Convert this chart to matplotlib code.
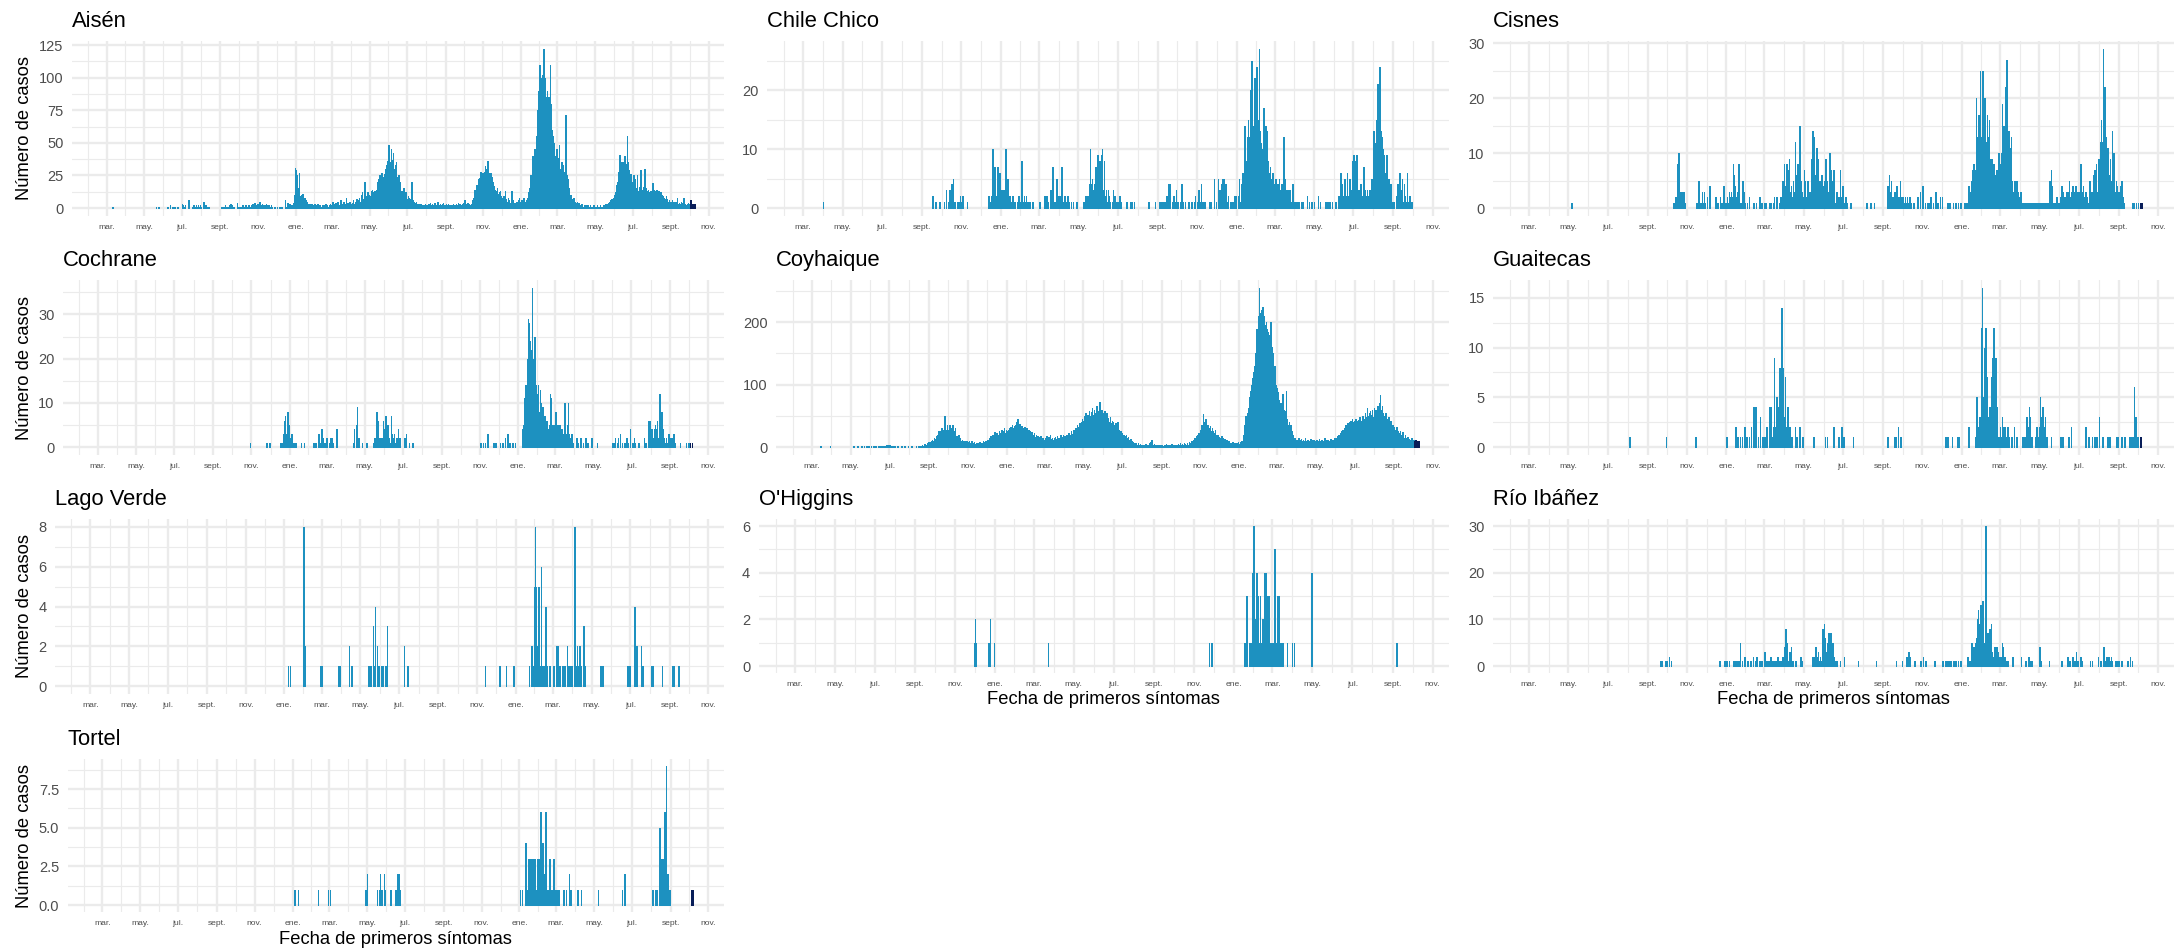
import numpy as np
import pandas as pd
import matplotlib
matplotlib.use("Agg")
import matplotlib.pyplot as plt
import matplotlib.dates as mdates

plt.rcParams['font.family'] = ['Liberation Sans', 'DejaVu Sans']

START, END = "2020-02-22", "2022-10-09"
HIGHLIGHT_FROM = "2022-10-03"
BAR_COLOR, LAST_COLOR = "#1d91c0", "#081d58"

communes = ["Aisén", "Chile Chico", "Cisnes", "Cochrane", "Coyhaique",
            "Guaitecas", "Lago Verde", "O'Higgins", "Río Ibáñez", "Tortel"]

# Daily cases by month: list = consecutive days from day 1; dict = {day: cases}
aisen = {
 "2020-03": {11: 1}, "2020-05": {20: 1, 24: 1}, "2020-06": {8: 1, 12: 2, 16: 1, 19: 1, 24: 1},
 "2020-07": [3,0,2,1,0,2,0,0,0,0,0,6,0,0,0,0,1,0,0,2,0,1,0,2,0,1,2,0,1,2,0],
 "2020-08": {1: 1, 5: 5, 6: 1, 7: 2, 9: 2, 10: 1, 12: 1, 14: 1},
 "2020-09": {2: 1, 4: 1, 6: 1, 7: 1, 9: 2, 10: 1, 13: 1, 15: 2, 17: 1, 18: 3, 20: 2, 21: 1, 23: 1, 28: 4, 30: 1},
 "2020-10": [0,1,0,1,1,0,2,0,0,1,0,2,0,1,1,0,2,0,1,1,2,0,3,1,2,0,4,0,1,2,3],
 "2020-11": [1,2,5,5,2,1,0,3,2,0,2,1,2,3,0,2,1,2,0,0,1,2,0,1,0,0,1,0,1,0],
 "2020-12": [0,1,0,0,0,1,0,0,1,0,0,0,0,0,6,0,1,0,4,0,1,3,0,2,1,0,2,1,4,10,31],
 "2021-01": [29,27,25,13,15,12,27,9,8,10,7,11,8,7,5,8,6,4,5,3,2,3,2,3,2,2,3,2,2,1,2],
 "2021-02": [3,2,1,2,2,3,2,1,2,1,0,1,2,1,2,1,0,1,3,1,2,1,1,1,2,3,1,2],
 "2021-03": [2,5,2,1,3,2,4,2,3,5,1,2,2,3,6,1,2,3,4,5,2,3,3,8,2,4,3,2,5,3,2],
 "2021-04": [3,2,4,6,2,3,5,4,3,7,4,5,6,8,5,4,10,6,12,7,5,8,20,9,6,9,8,12,7,10],
 "2021-05": [9,8,13,9,14,10,12,11,13,10,12,14,13,20,22,25,18,25,15,27,18,22,24,20,26,30,25,33,22,36,40],
 "2021-06": [48,30,35,27,45,25,37,42,30,28,20,33,35,24,18,15,25,20,14,10,8,13,9,7,15,6,10,12,8,7],
 "2021-07": [6,9,5,8,6,7,4,20,15,6,3,5,4,3,5,2,3,2,3,1,2,3,1,2,1,1,2,1,2,3,1],
 "2021-08": [2,1,2,3,1,2,4,2,1,3,2,1,2,4,3,2,1,3,5,2,1,2,3,1,2,3,1,4,2,2,1],
 "2021-09": [2,3,2,1,3,1,2,1,0,0,2,1,3,2,1,2,1,3,2,1,4,2,3,3,2,1,2,3,4,2],
 "2021-10": [3,6,2,1,3,2,4,1,3,2,2,1,3,5,6,8,10,14,12,16,18,10,11,22,14,23,19,28,25,20,27],
 "2021-11": [25,28,26,32,30,24,28,36,26,27,20,25,27,22,24,16,20,17,12,14,13,10,15,9,11,8,12,13,6,9],
 "2021-12": [8,6,5,9,4,13,7,6,5,4,8,5,6,3,4,4,13,5,6,4,3,2,4,5,5,4,6,5,8,4,5],
 "2022-01": [5,6,4,5,8,6,5,4,6,5,4,8,12,10,15,20,25,22,28,40,35,42,45,38,44,55,45,75,90,88,110],
 "2022-02": [95,100,85,90,102,80,122,95,100,85,80,90,78,75,85,70,110,80,65,60,55,45,50,35,40,37,34,45],
 "2022-03": [38,35,32,48,30,28,25,35,30,33,28,25,27,71,30,25,20,22,15,12,10,8,10,7,6,5,8,4,3,5,4],
 "2022-04": [3,5,2,4,3,2,1,2,3,2,1,1,2,1,1,2,1,1,2,1,1,1,2,1,1,1,1,1,2,1],
 "2022-05": [1,1,1,2,1,1,1,1,2,1,1,1,1,2,1,2,3,2,1,3,2,4,3,5,2,6,5,7,4,8,6],
 "2022-06": [8,10,12,15,18,20,25,28,30,41,29,20,35,28,30,35,25,40,32,34,28,55,35,29,24,25,10,26,20,18],
 "2022-07": [20,25,16,22,18,12,15,25,13,10,16,12,18,29,14,12,9,16,11,30,12,10,15,13,9,14,12,10,8,13,9],
 "2022-08": [12,19,17,14,13,10,12,9,14,11,8,13,10,9,12,8,10,7,9,6,8,7,5,9,6,7,5,4,6,5,4],
 "2022-09": [5,4,6,3,5,4,2,5,3,4,8,3,2,4,3,2,5,3,2,4,8,3,2,3,1,2,3,2,4,3],
 "2022-10": [3,2,6,3,3,2,3,3,3],
}

chile_chico = {
 "2020-04": {1: 1}, "2020-09": {17: 2, 22: 1, 28: 1},
 "2020-10": {5: 1, 8: 3, 12: 1, 14: 3, 16: 4, 18: 4, 19: 5, 21: 1, 26: 1, 28: 1, 30: 2},
 "2020-11": {1: 1, 3: 2, 10: 1},
 "2020-12": {13: 2, 15: 1, 17: 2, 19: 10, 20: 1, 21: 3, 22: 7, 23: 1, 24: 1, 25: 2, 26: 1, 27: 7, 28: 3, 29: 1, 30: 6, 31: 1},
 "2021-01": {1: 2, 2: 3, 3: 2, 4: 1, 5: 3, 6: 1, 7: 2, 8: 10, 9: 1, 10: 3, 11: 5, 12: 3, 13: 1, 14: 2, 15: 2, 17: 1, 19: 2, 21: 1, 23: 1, 26: 1, 28: 2, 30: 1},
 "2021-02": {1: 4, 2: 8, 3: 2, 4: 1, 5: 1, 6: 2, 7: 1, 9: 2, 11: 1, 13: 1, 15: 1, 18: 1, 20: 1},
 "2021-03": {2: 1, 10: 2, 12: 2, 13: 2, 15: 1, 19: 3, 21: 4, 22: 7, 24: 1, 26: 1, 28: 5, 29: 3, 31: 2},
 "2021-04": {1: 1, 3: 2, 5: 7, 6: 3, 8: 1, 10: 2, 11: 1, 14: 2, 16: 1, 20: 1, 23: 1, 28: 1},
 "2021-05": {8: 1, 10: 1, 12: 2, 13: 1, 15: 2, 16: 1, 18: 4, 19: 10, 20: 4, 21: 1, 22: 5, 23: 3, 24: 1, 25: 4, 26: 2, 27: 1, 28: 7, 29: 3, 30: 1, 31: 9},
 "2021-06": {1: 6, 2: 1, 3: 8, 4: 4, 5: 2, 6: 9, 7: 10, 8: 1, 9: 3, 10: 8, 11: 2, 12: 1, 13: 3, 14: 1, 16: 3, 17: 2, 19: 1, 22: 1, 24: 3, 26: 2, 28: 1},
 "2021-07": {1: 1, 4: 2, 6: 1, 15: 1, 20: 1, 22: 1, 26: 1},
 "2021-08": {18: 1, 28: 1},
 "2021-09": {4: 1, 7: 1, 10: 1, 12: 1, 15: 2, 17: 2, 18: 4, 20: 4, 23: 1, 25: 2, 27: 1, 29: 3},
 "2021-10": {2: 1, 6: 1, 8: 4, 10: 1, 13: 1, 19: 1, 23: 1, 28: 1, 29: 2},
 "2021-11": {1: 1, 3: 3, 5: 1, 7: 4, 9: 1, 11: 1, 13: 1, 20: 1, 22: 1, 27: 5, 30: 1},
 "2021-12": {3: 5, 4: 1, 6: 3, 9: 4, 10: 5, 12: 5, 13: 1, 15: 4, 17: 1, 19: 2, 22: 1, 24: 1, 26: 1, 28: 2, 30: 2, 31: 1},
 "2022-01": {3: 2, 5: 5, 6: 1, 9: 4, 10: 6, 11: 1, 12: 3, 13: 14, 14: 5, 15: 1, 16: 8, 17: 12, 18: 6, 19: 15, 20: 12, 21: 10, 22: 20, 23: 15, 24: 25, 25: 12, 26: 10, 27: 14, 28: 8, 29: 22, 30: 12, 31: 18},
 "2022-02": {1: 24, 2: 10, 3: 15, 4: 9, 5: 27, 6: 13, 7: 10, 8: 11, 9: 10, 10: 9, 11: 7, 12: 17, 13: 12, 14: 10, 15: 14, 16: 13, 17: 6, 18: 8, 19: 7, 20: 6, 21: 5, 22: 7, 23: 5, 24: 3, 25: 4, 26: 6, 27: 2, 28: 4},
 "2022-03": {1: 3, 2: 5, 3: 2, 4: 2, 5: 4, 6: 1, 7: 4, 8: 5, 9: 2, 10: 3, 11: 1, 12: 4, 13: 1, 14: 2, 15: 12, 16: 2, 17: 5, 18: 3, 19: 1, 20: 3, 21: 3, 22: 1, 23: 2, 24: 3, 25: 1, 27: 1, 29: 4, 31: 1},
 "2022-04": {2: 1, 4: 1, 7: 1, 11: 1, 13: 1, 20: 2, 23: 1, 27: 1},
 "2022-05": {1: 1, 7: 2, 10: 1, 19: 1, 22: 1, 25: 1, 29: 1},
 "2022-06": {3: 1, 8: 2, 11: 6, 12: 1, 13: 4, 14: 1, 15: 2, 16: 1, 17: 5, 18: 2, 19: 1, 20: 2, 21: 6, 22: 2, 23: 1, 24: 3, 25: 5, 26: 1, 27: 2, 28: 3, 29: 8, 30: 2},
 "2022-07": {1: 9, 2: 2, 3: 8, 4: 8, 5: 2, 6: 9, 7: 3, 8: 1, 9: 2, 10: 3, 11: 2, 12: 4, 13: 4, 14: 2, 15: 1, 16: 6, 17: 7, 18: 2, 19: 3, 20: 2, 21: 1, 22: 3, 23: 1, 24: 2, 25: 2, 26: 3, 27: 2, 28: 1, 29: 5, 30: 5, 31: 2},
 "2022-08": {1: 13, 2: 13, 3: 6, 4: 11, 5: 15, 6: 8, 7: 21, 8: 15, 9: 12, 10: 24, 11: 14, 12: 13, 13: 9, 14: 12, 15: 10, 16: 5, 17: 9, 18: 6, 19: 3, 20: 5, 21: 9, 22: 4, 23: 2, 24: 5, 25: 3, 26: 1, 27: 4, 28: 2, 29: 1, 30: 1},
 "2022-09": {1: 1, 5: 2, 7: 4, 8: 3, 10: 6, 11: 3, 12: 3, 13: 1, 14: 5, 15: 1, 17: 4, 18: 1, 19: 2, 21: 1, 22: 6, 24: 1, 26: 2, 28: 1, 29: 1},
}

cisnes = {
 "2020-05": {6: 1},
 "2020-10": {10: 1, 12: 1, 14: 2, 16: 8, 17: 1, 18: 2, 19: 10, 20: 1, 21: 3, 22: 1, 23: 3, 25: 1, 26: 3, 27: 1, 28: 1, 29: 1},
 "2020-11": {15: 1, 17: 1, 19: 5, 20: 1, 22: 1, 24: 3, 25: 1, 27: 3, 29: 1},
 "2020-12": {2: 2, 5: 1, 6: 4, 15: 2, 18: 1, 22: 2, 24: 1, 27: 4, 29: 1},
 "2021-01": {1: 1, 2: 2, 4: 1, 5: 3, 7: 2, 8: 3, 9: 2, 10: 1, 11: 8, 12: 6, 13: 1, 14: 4, 15: 1, 16: 2, 18: 3, 19: 2, 20: 8, 21: 1, 22: 1, 23: 1, 25: 1, 26: 5, 28: 3, 29: 1},
 "2021-02": {2: 1, 5: 2, 12: 1, 16: 1, 21: 2, 24: 1},
 "2021-03": {1: 1, 3: 1, 9: 1, 11: 1, 14: 1, 16: 2, 20: 2, 24: 1, 25: 2, 26: 1, 27: 2, 28: 2, 29: 5, 30: 2, 31: 8},
 "2021-04": {1: 3, 2: 4, 3: 2, 4: 8, 5: 3, 6: 1, 7: 7, 8: 9, 9: 3, 10: 2, 11: 4, 12: 2, 13: 1, 14: 5, 15: 3, 16: 2, 17: 12, 18: 3, 19: 6, 20: 2, 21: 8, 22: 3, 23: 1, 24: 15, 25: 12, 26: 5, 27: 2, 28: 3, 29: 1, 30: 2},
 "2021-05": {1: 7, 2: 3, 3: 5, 4: 2, 5: 1, 6: 3, 7: 5, 8: 1, 9: 2, 10: 3, 11: 1, 12: 3, 13: 9, 14: 14, 15: 5, 16: 13, 17: 8, 18: 3, 19: 6, 20: 2, 21: 11, 22: 9, 23: 3, 24: 5, 25: 3, 26: 1, 27: 5, 28: 6, 29: 3, 30: 2, 31: 4},
 "2021-06": {1: 5, 2: 2, 3: 7, 4: 9, 5: 2, 6: 5, 7: 3, 8: 1, 9: 7, 10: 10, 11: 7, 12: 2, 13: 5, 14: 2, 15: 1, 16: 7, 17: 3, 18: 1, 19: 1, 20: 2, 21: 3, 22: 1, 23: 2, 24: 2, 25: 1, 26: 7, 27: 2, 28: 1, 29: 2, 30: 4},
 "2021-07": {1: 3, 2: 1, 4: 2, 5: 2, 7: 1, 12: 1},
 "2021-08": {6: 1, 12: 1, 18: 1},
 "2021-09": {7: 2, 8: 4, 10: 6, 11: 3, 12: 1, 13: 5, 14: 2, 15: 1, 16: 1, 17: 2, 18: 1, 19: 3, 20: 2, 21: 1, 22: 4, 23: 1, 24: 1, 25: 2, 26: 1, 27: 5, 28: 1, 29: 2, 30: 1},
 "2021-10": {1: 2, 2: 1, 3: 1, 4: 1, 5: 2, 6: 1, 8: 2, 9: 1, 10: 1, 12: 2, 14: 1, 17: 1, 19: 1, 24: 2, 28: 3},
 "2021-11": {1: 4, 5: 1, 8: 1, 10: 1, 13: 2, 17: 1, 21: 3, 24: 1, 28: 2},
 "2021-12": {1: 2, 10: 1, 13: 1, 18: 1, 22: 1, 26: 1, 30: 1},
 "2022-01": {5: 1, 8: 1, 10: 1, 11: 4, 12: 2, 13: 1, 14: 3, 15: 5, 16: 2, 17: 7, 18: 7, 19: 8, 20: 2, 21: 4, 22: 7, 23: 20, 24: 5, 25: 13, 26: 10, 27: 17, 28: 8, 29: 25, 30: 13, 31: 10},
 "2022-02": {1: 11, 2: 25, 3: 14, 4: 8, 5: 20, 6: 15, 7: 12, 8: 10, 9: 17, 10: 13, 11: 9, 12: 16, 13: 6, 14: 9, 15: 5, 16: 9, 17: 5, 18: 3, 19: 8, 20: 5, 21: 6, 22: 3, 23: 5, 24: 7, 25: 2, 26: 5, 27: 10, 28: 5},
 "2022-03": {1: 5, 2: 8, 3: 10, 4: 19, 5: 5, 6: 8, 7: 15, 8: 5, 9: 22, 10: 20, 11: 27, 12: 9, 13: 10, 14: 14, 15: 5, 16: 6, 17: 11, 18: 13, 19: 4, 20: 5, 21: 3, 22: 2, 23: 5, 24: 3, 25: 5, 26: 2, 27: 5, 28: 3, 29: 1, 30: 2, 31: 1},
 "2022-04": {2: 3, 3: 1, 5: 1, 6: 1, 7: 1, 8: 1, 9: 1, 11: 1, 12: 1, 13: 1, 15: 1, 16: 1, 18: 1, 19: 1, 20: 1, 22: 1, 23: 1, 25: 1, 26: 1, 27: 1, 29: 1, 30: 1},
 "2022-05": {1: 1, 2: 1, 4: 1, 5: 1, 6: 1, 8: 1, 9: 1, 11: 1, 12: 1, 13: 1, 15: 1, 16: 1, 17: 5, 18: 2, 19: 7, 20: 4, 22: 1, 25: 1, 28: 2, 31: 1},
 "2022-06": {1: 1, 3: 2, 5: 4, 7: 3, 9: 2, 10: 1, 12: 3, 14: 3, 16: 5, 17: 2, 19: 1, 20: 3, 22: 4, 23: 2, 25: 3, 26: 4, 28: 2, 29: 3},
 "2022-07": {1: 1, 2: 3, 4: 8, 5: 5, 7: 3, 8: 4, 9: 2, 11: 1, 12: 3, 14: 2, 16: 1, 18: 5, 19: 4, 21: 3, 22: 3, 24: 6, 25: 4, 26: 7, 28: 8, 29: 3, 31: 6},
 "2022-08": {1: 9, 2: 3, 3: 12, 4: 12, 5: 16, 6: 5, 7: 12, 8: 29, 9: 6, 10: 22, 11: 18, 12: 13, 13: 4, 14: 8, 15: 11, 16: 3, 17: 5, 18: 6, 19: 9, 20: 3, 21: 5, 22: 14, 23: 2, 24: 10, 25: 5, 26: 2, 27: 3, 28: 5, 29: 4, 30: 1, 31: 2},
 "2022-09": {1: 3, 3: 2, 4: 4, 6: 5, 7: 2, 9: 1, 22: 1, 23: 1, 25: 1, 28: 1},
 "2022-10": {1: 1, 4: 1, 7: 1},
}

cochrane = {
 "2020-10": {30: 1}, "2020-11": {25: 1, 30: 1},
 "2020-12": {17: 1, 19: 1, 22: 3, 23: 6, 24: 2, 25: 7, 26: 3, 27: 2, 28: 8, 29: 8, 30: 2, 31: 5},
 "2021-01": {1: 2, 2: 1, 3: 1, 4: 3, 5: 1, 6: 1, 8: 1, 10: 1, 19: 1, 24: 1},
 "2021-02": {8: 1, 11: 1, 16: 3, 18: 1, 21: 4, 23: 2, 26: 1},
 "2021-03": {1: 2, 5: 1, 7: 2, 10: 2, 11: 1, 17: 4},
 "2021-04": {12: 1, 14: 4, 17: 5, 19: 9, 20: 2, 22: 2, 27: 1},
 "2021-05": {4: 1, 14: 1, 15: 1, 17: 2, 20: 8, 21: 6, 22: 1, 23: 2, 24: 1, 25: 1, 26: 2, 27: 1, 28: 2, 30: 6, 31: 2},
 "2021-06": {1: 1, 2: 4, 3: 7, 4: 1, 5: 2, 6: 5, 7: 1, 8: 2, 10: 1, 12: 7, 13: 3, 14: 1, 15: 2, 17: 3, 18: 1, 21: 2, 23: 4, 24: 1, 26: 2},
 "2021-07": {3: 2, 5: 2, 6: 3, 11: 1, 16: 1},
 "2021-11": {2: 1, 6: 1, 9: 1, 13: 3, 23: 1, 26: 1},
 "2021-12": {3: 1, 7: 1, 11: 2, 15: 3, 16: 2, 18: 1, 23: 1, 27: 1},
 "2022-01": {7: 2, 8: 4, 9: 2, 10: 5, 11: 11, 12: 6, 13: 14, 14: 11, 15: 20, 16: 13, 17: 29, 18: 28, 19: 22, 20: 24, 21: 22, 22: 18, 23: 36, 24: 20, 25: 16, 26: 14, 27: 25, 28: 22, 29: 12, 30: 14, 31: 12},
 "2022-02": {1: 10, 2: 14, 3: 8, 4: 6, 5: 13, 6: 10, 7: 5, 8: 7, 9: 9, 10: 4, 11: 6, 12: 7, 13: 3, 14: 5, 15: 6, 16: 5, 17: 2, 18: 4, 19: 3, 20: 5, 21: 12, 22: 11, 23: 4, 24: 5, 25: 3, 26: 2, 27: 5, 28: 3},
 "2022-03": {1: 4, 2: 8, 3: 2, 4: 3, 5: 5, 6: 1, 7: 2, 8: 5, 9: 1, 10: 3, 11: 4, 12: 2, 13: 2, 14: 3, 15: 1, 16: 10, 17: 2, 18: 1, 19: 3, 20: 5, 21: 2, 22: 10, 23: 3, 24: 1, 25: 2, 26: 1, 27: 3, 30: 1},
 "2022-04": {4: 2, 7: 1, 11: 2, 15: 1, 19: 2, 22: 1, 28: 2},
 "2022-05": {7: 1},
 "2022-06": {1: 1, 3: 1, 5: 2, 8: 1, 10: 2, 13: 3, 16: 1, 20: 1, 23: 2, 25: 1, 29: 4},
 "2022-07": {3: 1, 5: 2, 7: 1, 12: 1, 21: 2, 24: 1, 28: 6, 29: 1, 30: 6, 31: 2},
 "2022-08": {1: 1, 2: 4, 3: 1, 4: 2, 5: 1, 6: 4, 7: 2, 8: 5, 9: 1, 10: 4, 11: 6, 12: 2, 13: 1, 14: 4, 15: 12, 16: 2, 17: 3, 18: 8, 19: 1, 20: 4, 21: 2, 23: 1, 25: 2, 27: 1, 29: 3, 31: 2},
 "2022-09": {3: 2, 5: 1, 6: 3, 9: 1, 17: 1, 26: 1, 30: 1},
 "2022-10": {3: 1, 6: 1},
}

coyhaique = {
 "2020-03": {15: 1, 30: 1},
 "2020-05": {6: 1, 12: 1, 18: 1, 22: 2, 26: 1, 29: 1},
 "2020-06": {2: 1, 5: 2, 8: 1, 10: 2, 13: 1, 15: 1, 17: 1, 20: 2, 22: 1, 24: 1, 26: 3, 27: 2, 29: 3, 30: 2},
 "2020-07": {1: 3, 2: 2, 4: 1, 6: 2, 9: 1, 14: 1, 20: 1, 25: 1, 30: 1},
 "2020-08": {5: 1, 12: 1, 16: 2, 19: 1, 21: 3, 23: 2, 25: 5, 27: 3, 28: 2, 29: 6, 30: 4, 31: 8},
 "2020-09": [5,8,4,10,7,12,9,6,14,10,13,18,11,20,15,25,22,17,26,24,30,18,28,25,50,32,27,22,35,26],
 "2020-10": [28,20,35,25,22,30,18,36,15,25,20,30,12,18,14,10,20,12,8,15,10,7,12,9,6,8,10,5,7,9,6],
 "2020-11": [8,5,10,6,4,7,9,5,3,6,8,4,5,7,3,6,5,4,8,3,5,6,4,7,9,5,8,6,10,7],
 "2020-12": [9,12,8,15,10,13,18,11,16,20,14,12,24,18,10,22,15,20,12,25,18,22,16,28,20,15,25,30,22,18,27],
 "2021-01": [22,25,28,20,30,26,32,24,35,28,30,27,33,36,30,40,38,45,36,28,37,30,25,33,27,30,22,28,32,25,20],
 "2021-02": [30,24,18,28,22,26,20,15,24,18,20,14,22,16,12,20,14,18,12,16,10,14,18,12,15,11,14,10],
 "2021-03": [12,15,10,18,12,14,9,16,11,20,13,10,15,12,8,14,11,16,10,13,18,12,15,10,14,19,12,16,13,20,15],
 "2021-04": [14,18,12,16,20,15,13,22,17,14,19,25,16,21,18,28,22,20,30,25,35,28,24,32,38,30,27,40,45,36],
 "2021-05": [42,50,38,45,55,48,40,52,47,58,44,50,56,48,62,45,52,60,50,55,48,65,53,58,50,62,73,55,48,60,52],
 "2021-06": [55,48,58,45,50,42,55,38,46,40,35,48,38,30,42,35,40,28,36,32,38,25,30,40,22,28,24,20,26,18],
 "2021-07": [22,18,20,15,17,12,19,14,10,16,12,8,10,13,7,9,6,8,5,7,4,6,5,3,4,6,3,2,5,3,2],
 "2021-08": [3,2,4,1,3,2,5,3,2,1,4,2,6,3,8,12,6,4,3,5,2,3,1,4,2,3,2,1,3,2,4],
 "2021-09": [2,3,1,2,4,3,2,5,3,1,2,4,3,2,1,3,5,2,3,4,2,1,3,2,4,3,5,2,3,6],
 "2021-10": [4,3,5,2,4,6,3,5,4,2,6,4,3,8,5,7,6,10,8,12,9,15,11,14,18,13,20,16,22,18,25],
 "2021-11": [28,30,35,25,53,32,40,28,45,30,25,35,22,30,28,33,25,20,30,18,25,22,15,28,20,18,14,20,12,16],
 "2021-12": [12,15,10,18,9,14,11,8,13,10,7,12,9,6,10,8,5,7,4,6,8,5,3,6,4,7,5,3,6,8,5],
 "2022-01": [5,8,4,10,6,9,12,20,35,30,50,45,52,55,62,80,75,90,85,100,110,95,120,130,115,150,180,190,170,210,195],
 "2022-02": [255,200,215,190,220,225,180,200,210,185,195,200,190,175,185,170,180,165,200,150,160,140,150,120,130,110,100,95],
 "2022-03": [95,88,80,75,65,60,70,58,62,85,55,60,58,50,90,45,40,35,32,40,33,35,30,25,20,18,15,12,14,10,12],
 "2022-04": [10,12,8,15,9,11,7,13,10,8,12,6,9,14,7,10,12,8,11,9,6,10,13,8,7,11,9,12,8,10],
 "2022-05": [9,12,7,10,8,13,6,9,11,8,12,7,10,9,14,8,6,11,9,12,8,10,7,13,9,11,8,12,10,14,9],
 "2022-06": [12,15,10,18,14,20,12,22,17,25,15,28,20,30,25,22,35,28,32,38,30,40,35,42,33,38,45,40,36,42],
 "2022-07": [38,45,35,42,30,40,44,36,48,38,42,34,50,40,45,38,55,42,48,63,45,50,40,55,58,46,52,60,48,44,62],
 "2022-08": [58,52,60,48,55,65,62,70,68,83,60,58,65,55,50,48,45,55,52,42,45,40,48,35,38,42,32,30,35,28,32],
 "2022-09": [30,25,28,22,32,20,25,18,22,26,15,20,18,24,16,12,15,20,14,10,12,16,9,13,11,8,12,15,10,9],
 "2022-10": [12,8,10,11,9,10,8,9,10],
}

guaitecas = {
 "2020-08": {4: 1}, "2020-09": {29: 1}, "2020-11": {14: 1},
 "2021-01": {1: 1, 15: 2, 18: 1, 22: 1, 25: 1, 29: 2},
 "2021-02": {1: 1, 5: 1, 8: 2, 12: 4, 14: 1, 15: 4, 19: 1, 22: 3, 26: 1},
 "2021-03": {1: 1, 4: 2, 8: 4, 10: 4, 11: 1, 12: 1, 13: 1, 14: 1, 15: 2, 16: 9, 17: 1, 18: 2, 19: 1, 20: 5, 21: 1, 22: 1, 23: 4, 24: 8, 25: 1, 26: 6, 27: 14, 28: 10, 29: 1, 30: 8, 31: 3},
 "2021-04": {1: 1, 2: 7, 3: 1, 4: 2, 5: 1, 6: 4, 7: 1, 9: 2, 12: 1, 17: 2, 20: 1, 24: 2, 29: 1},
 "2021-05": {16: 1},
 "2021-06": {3: 1, 6: 1, 16: 2, 24: 1, 28: 2, 30: 1},
 "2021-07": {2: 1, 16: 1},
 "2021-09": {8: 1, 19: 1, 21: 1, 24: 2, 28: 1},
 "2021-12": {7: 1, 10: 1, 17: 1, 25: 1, 27: 1},
 "2022-01": {11: 2, 22: 1, 24: 5, 25: 1, 26: 1, 27: 2, 28: 3, 29: 1, 30: 3, 31: 12},
 "2022-02": {1: 16, 2: 3, 3: 5, 4: 1, 5: 10, 6: 5, 7: 12, 8: 3, 9: 7, 10: 3, 11: 1, 12: 4, 13: 1, 14: 4, 15: 2, 16: 7, 17: 8, 18: 9, 19: 12, 20: 10, 21: 9, 22: 9, 23: 9, 24: 4, 25: 1, 26: 1, 27: 1, 28: 1},
 "2022-03": {1: 2, 2: 1, 3: 1, 4: 3, 5: 1, 6: 2, 7: 1, 8: 2, 9: 1, 10: 1, 12: 1, 13: 2, 15: 1, 18: 1, 20: 1, 23: 2, 27: 1},
 "2022-04": {4: 1, 6: 1, 8: 1, 9: 1, 11: 3, 12: 1, 13: 2, 14: 1, 15: 4, 16: 1, 17: 3, 19: 1, 25: 1, 27: 2, 28: 1},
 "2022-05": {1: 2, 2: 5, 3: 3, 4: 2, 5: 2, 6: 4, 7: 1, 8: 2, 9: 1, 10: 3, 12: 1, 19: 1},
 "2022-06": {3: 1, 6: 1, 15: 1, 19: 2},
 "2022-07": {12: 2, 16: 1, 22: 1, 26: 1, 29: 1},
 "2022-08": {2: 3, 7: 1, 15: 1, 18: 1, 29: 1, 31: 1},
 "2022-09": {6: 1, 10: 1, 18: 1, 20: 1, 21: 1, 23: 1, 24: 1, 25: 6, 27: 3, 28: 1, 30: 1},
 "2022-10": {4: 1, 5: 1},
}

lago_verde = {
 "2021-01": {7: 1, 10: 1, 31: 8}, "2021-02": {2: 2, 27: 1}, "2021-03": {1: 1, 27: 1, 29: 1},
 "2021-04": {13: 2, 17: 1},
 "2021-05": {14: 1, 17: 1, 21: 3, 22: 1, 24: 4, 27: 2, 30: 1},
 "2021-06": {3: 1, 5: 1, 10: 1, 12: 3}, "2021-07": {9: 2, 14: 1},
 "2021-11": {14: 1}, "2021-12": {7: 1, 17: 1, 29: 1},
 "2022-01": {22: 1, 26: 2, 28: 1, 31: 5},
 "2022-02": {1: 8, 2: 5, 3: 1, 4: 2, 5: 1, 6: 5, 7: 1, 8: 1, 9: 1, 10: 6, 11: 1, 13: 1, 15: 1, 17: 4, 19: 1, 24: 1},
 "2022-03": {2: 1, 7: 2, 8: 2, 10: 1, 12: 1, 15: 1, 18: 1, 20: 1, 23: 2, 25: 1, 27: 1, 30: 1},
 "2022-04": {4: 8, 6: 1, 8: 2, 10: 1, 12: 2, 14: 1, 18: 3, 20: 1},
 "2022-05": {15: 1, 18: 1}, "2022-06": {26: 1, 28: 1, 30: 1},
 "2022-07": {8: 4, 11: 2, 18: 2, 20: 1}, "2022-08": {4: 1, 6: 1, 20: 1},
 "2022-09": {6: 1, 8: 1, 15: 1},
}

ohiggins = {
 "2020-11": {30: 1}, "2020-12": {1: 2, 2: 1, 21: 1, 22: 1, 24: 2, 30: 1},
 "2021-03": {23: 1}, "2021-11": {24: 1, 28: 1},
 "2022-01": {17: 1, 20: 3, 25: 1, 27: 1, 29: 4, 30: 1, 31: 6},
 "2022-02": {1: 1, 2: 1, 3: 2, 4: 1, 5: 4, 6: 1, 7: 3, 8: 1, 9: 1, 10: 3, 11: 1, 12: 1, 13: 1, 14: 2, 15: 1, 16: 4, 17: 3, 18: 4, 19: 2, 20: 3, 21: 3, 22: 1, 23: 3, 24: 1, 25: 1, 26: 1},
 "2022-03": {1: 1, 2: 1, 4: 5, 6: 1, 7: 1, 8: 3, 10: 3, 12: 1, 15: 1, 17: 1, 23: 1, 31: 1},
 "2022-04": {3: 1, 30: 4}, "2022-09": {6: 1, 7: 1},
}

rio_ibanez = {
 "2020-09": {21: 1, 23: 1, 28: 1, 30: 1}, "2020-10": {4: 2, 7: 1}, "2020-12": {21: 1, 29: 1},
 "2021-01": {1: 1, 5: 1, 12: 1, 13: 1, 15: 1, 18: 1, 20: 1, 22: 5, 25: 1, 29: 2},
 "2021-02": {3: 1, 7: 1, 11: 2, 14: 1, 17: 2, 21: 1, 24: 1},
 "2021-03": {1: 3, 4: 1, 7: 1, 10: 2, 13: 1, 16: 1, 18: 1, 21: 2, 24: 1, 26: 1, 29: 2, 31: 4},
 "2021-04": {1: 1, 2: 1, 3: 8, 4: 1, 5: 5, 6: 1, 7: 1, 8: 1, 9: 3, 10: 1, 11: 4, 13: 1, 14: 1, 18: 1, 26: 2, 28: 1},
 "2021-05": {14: 2, 15: 1, 16: 2, 17: 1, 18: 1, 19: 4, 20: 1, 21: 2, 22: 1, 23: 3, 24: 1, 26: 2, 28: 1, 30: 8, 31: 6},
 "2021-06": {1: 9, 2: 1, 3: 6, 4: 3, 5: 1, 6: 5, 7: 1, 8: 7, 9: 2, 10: 1, 11: 7, 12: 1, 13: 4, 14: 5, 15: 1, 16: 2, 19: 1, 21: 1, 26: 1},
 "2021-07": {2: 2, 24: 1}, "2021-08": {21: 1}, "2021-09": {21: 1, 30: 1},
 "2021-10": {7: 2, 9: 1, 10: 3, 12: 2, 20: 1, 29: 1}, "2021-11": {2: 2, 6: 1, 20: 1},
 "2021-12": {2: 1, 6: 1, 8: 1, 11: 1, 13: 1, 15: 1, 19: 1, 22: 1, 26: 1, 30: 1},
 "2022-01": {10: 2, 11: 1, 12: 1, 13: 1, 14: 1, 15: 2, 16: 5, 17: 1, 18: 3, 19: 4, 20: 3, 21: 2, 22: 5, 23: 6, 24: 3, 25: 10, 26: 12, 27: 9, 28: 2, 29: 5, 30: 13, 31: 4},
 "2022-02": {1: 11, 2: 14, 3: 13, 4: 4, 5: 5, 6: 5, 7: 30, 8: 5, 9: 3, 10: 7, 11: 7, 12: 2, 13: 8, 14: 8, 15: 9, 16: 2, 17: 3, 18: 2, 19: 1, 20: 3, 21: 4, 22: 2, 23: 1, 24: 4, 25: 3, 26: 1, 27: 2, 28: 1},
 "2022-03": {1: 1, 2: 2, 3: 1, 4: 5, 5: 4, 6: 4, 7: 1, 8: 2, 10: 1, 13: 1, 21: 2},
 "2022-04": {3: 2, 10: 1, 14: 2, 16: 1, 19: 1}, "2022-05": {1: 4, 4: 1, 16: 1},
 "2022-06": {5: 1, 14: 2, 17: 1, 22: 2, 25: 1, 27: 3, 29: 1},
 "2022-07": {3: 2, 5: 2, 6: 1, 19: 1, 22: 1, 31: 2},
 "2022-08": {3: 1, 5: 1, 9: 4, 11: 1, 13: 2, 16: 2, 18: 1, 20: 2, 22: 1, 27: 1, 29: 1},
 "2022-09": {1: 1, 6: 1, 15: 1, 19: 2, 22: 1},
}

tortel = {
 "2021-01": {4: 1, 10: 1}, "2021-02": {11: 1, 27: 1}, "2021-03": {2: 1}, "2021-04": {28: 1},
 "2021-05": {1: 2, 17: 1, 20: 1, 22: 2, 24: 1, 28: 2, 30: 1},
 "2021-06": {8: 1, 15: 1, 16: 1, 18: 2, 20: 2, 22: 1},
 "2022-01": {2: 1, 5: 1, 11: 4, 13: 1, 14: 1, 15: 3, 16: 1, 17: 3, 18: 3, 19: 1, 20: 3, 21: 1, 22: 3, 23: 1, 24: 3, 25: 1, 26: 3, 27: 1, 28: 1, 29: 3, 30: 1, 31: 3},
 "2022-02": {1: 3, 2: 1, 3: 1, 4: 6, 5: 1, 6: 2, 7: 4, 8: 1, 9: 1, 10: 2, 11: 1, 12: 6, 13: 1, 14: 1, 15: 1, 16: 1, 17: 1, 18: 3, 19: 1, 20: 1, 21: 1, 22: 1, 23: 1, 25: 3, 27: 1},
 "2022-03": {2: 1, 5: 1, 13: 1, 17: 1, 22: 2, 24: 1},
 "2022-04": {4: 1, 10: 1}, "2022-05": {7: 1}, "2022-06": {15: 1, 19: 2},
 "2022-08": {2: 1, 4: 1, 7: 1, 9: 1, 14: 5, 15: 1, 16: 3, 17: 3, 18: 2, 19: 3, 20: 1, 21: 2, 22: 6, 23: 2, 24: 3, 25: 9, 26: 2, 27: 1, 28: 2, 30: 1, 31: 1},
 "2022-10": {5: 1, 6: 1},
}

series_data = [aisen, chile_chico, cisnes, cochrane, coyhaique,
               guaitecas, lago_verde, ohiggins, rio_ibanez, tortel]

yticks = [[0, 25, 50, 75, 100, 125], [0, 10, 20], [0, 10, 20, 30], [0, 10, 20, 30],
          [0, 100, 200], [0, 5, 10, 15], [0, 2, 4, 6, 8], [0, 2, 4, 6],
          [0, 10, 20, 30], [0, 2.5, 5.0, 7.5]]
ytick_labels = [None] * 9 + [["0.0", "2.5", "5.0", "7.5"]]

xtick_labels = ["mar.", "may.", "jul.", "sept.", "nov.", "ene.",
                "mar.", "may.", "jul.", "sept.", "nov.", "ene.",
                "mar.", "may.", "jul.", "sept.", "nov."]
xtick_dates = pd.date_range("2020-03-01", "2022-11-01", freq="2MS")

xlabel_text = "Fecha de primeros síntomas"
ylabel_text = "Número de casos"


def build(months):
    idx = pd.date_range(START, END)
    s = pd.Series(0.0, index=idx)
    for ym, vals in months.items():
        y, m = map(int, ym.split("-"))
        first = pd.Timestamp(y, m, 1)
        if isinstance(vals, dict):
            for d, v in vals.items():
                s[pd.Timestamp(y, m, d)] = v
        else:
            for k, v in enumerate(vals):
                s[first + pd.Timedelta(days=k)] = v
    return s


# ---- layout (pixels) ----
W, H = 2178, 952
panel_left = [72, 767, 1493, 63, 776, 1493, 55, 758.5, 1493, 67.5]
col_right = [724, 1449, 2174]
row_top = [41, 280, 519, 759]
with_xlabel = {7: 673, 8: 673, 9: 912}

fig = plt.figure(figsize=(W / 100, H / 100), dpi=100)
fig.patch.set_facecolor("white")

GRID = "#EBEBEB"
TXT = "#4D4D4D"

maj_x = mdates.date2num(xtick_dates.to_pydatetime())
ext = np.concatenate([[mdates.date2num(pd.Timestamp("2020-01-01"))], maj_x,
                      [mdates.date2num(pd.Timestamp("2023-01-01"))]])
min_x = (ext[:-1] + ext[1:]) / 2

for i, name in enumerate(communes):
    r, c = divmod(i, 3)
    top = row_top[r]
    bottom = with_xlabel.get(i, top + 175)
    left, right = panel_left[i], col_right[c]
    ax = fig.add_axes([left / W, 1 - bottom / H, (right - left) / W, (bottom - top) / H])

    s = build(series_data[i])
    x = mdates.date2num(s.index.to_pydatetime())
    v = s.values
    nz = v > 0
    colors = list(np.where(s.index >= pd.Timestamp(HIGHLIGHT_FROM), LAST_COLOR, BAR_COLOR)[nz])
    ax.bar(x[nz], v[nz], width=0.9, color=colors, edgecolor=colors,
           linewidth=0.4, antialiased=False, zorder=3)

    span = x[-1] - x[0]
    vmax = v.max()
    ax.set_ylim(-0.05 * vmax, 1.05 * vmax)

    ax.set_xticks(maj_x)
    ax.set_xticklabels(xtick_labels)
    ax.set_xticks(min_x, minor=True)
    yt = yticks[i]
    step = yt[1] - yt[0]
    ax.set_yticks(yt)
    if ytick_labels[i] is not None:
        ax.set_yticklabels(ytick_labels[i])
    else:
        ax.set_yticklabels([str(t) for t in yt])
    ymin = [t + step / 2 for t in [yt[0] - step] + list(yt)]
    ax.set_yticks([t for t in ymin if -0.05 * vmax < t < 1.05 * vmax], minor=True)
    ax.set_xlim(x[0] - 0.05 * span, x[-1] + 0.05 * span)

    ax.grid(which="major", color=GRID, linewidth=1.7, zorder=0)
    ax.grid(which="minor", color=GRID, linewidth=0.85, zorder=0)
    ax.set_axisbelow(True)
    for sp in ax.spines.values():
        sp.set_visible(False)
    ax.tick_params(which="both", length=0)
    ax.tick_params(axis="y", labelsize=10.5, labelcolor=TXT, pad=6)
    ax.tick_params(axis="x", labelsize=6.1, labelcolor=TXT, pad=6)

    fig.text(left / W, 1 - (top - 14) / H, name, fontsize=15.8, ha="left",
             va="baseline", color="black")
    if c == 0:
        fig.text(25 / W, 1 - ((top + bottom) / 2) / H, ylabel_text, rotation=90,
                 fontsize=13.2, ha="center", va="center", color="black")
    if i in with_xlabel:
        fig.text(((left + right) / 2) / W, 1 - (bottom + 27) / H, xlabel_text,
                 fontsize=13.2, ha="center", va="center", color="black")

fig.savefig("out.png", dpi=100, facecolor="white")
